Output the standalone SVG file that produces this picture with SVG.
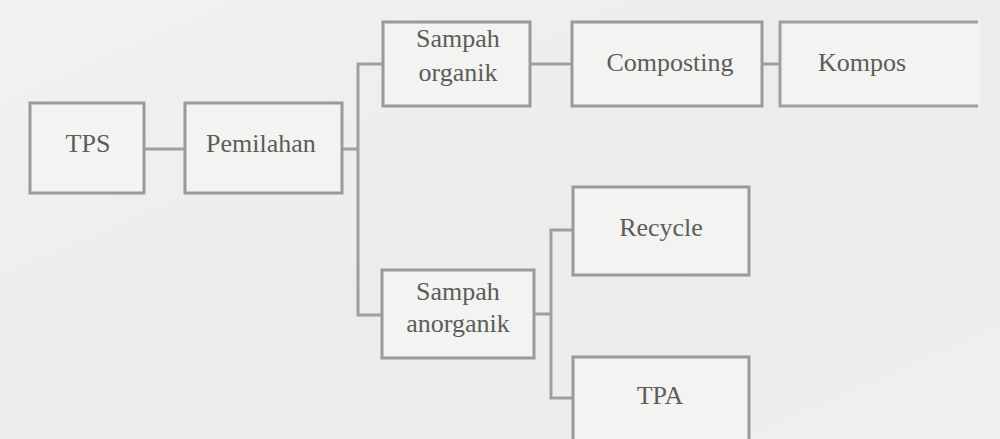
<svg xmlns="http://www.w3.org/2000/svg" width="1000" height="439" viewBox="0 0 1000 439">
<style>
.box{fill:#f3f3f1;stroke:#9a9a98;stroke-width:3}
.ln{fill:none;stroke:#9f9f9d;stroke-width:3}
text{font-family:"Liberation Serif",serif;font-size:26px;fill:#5c5c5a;text-anchor:middle;dominant-baseline:middle}
</style>
<defs>
<linearGradient id="bg" x1="0" y1="0" x2="1" y2="1">
<stop offset="0" stop-color="#f2f2f0"/>
<stop offset="0.5" stop-color="#ececea"/>
<stop offset="1" stop-color="#efefed"/>
</linearGradient>
</defs>
<rect width="1000" height="439" fill="url(#bg)"/>
<g id="connectors">
<path class="ln" d="M144 149H185"/>
<path class="ln" d="M342 149H358"/>
<path class="ln" d="M383 64H358V315H382"/>
<path class="ln" d="M530 64H572"/>
<path class="ln" d="M762 64H780"/>
<path class="ln" d="M534 314H551"/>
<path class="ln" d="M573 230H551V398H573"/>
</g>
<g id="tps"><rect class="box" x="30" y="103" width="114" height="90"/><text x="88" y="146">TPS</text></g>
<g id="pemilahan"><rect class="box" x="185" y="103" width="157" height="90"/><text x="261" y="146">Pemilahan</text></g>
<g id="sampah-organik"><rect class="box" x="383" y="22" width="147" height="84"/><text x="458" y="41">Sampah</text><text x="458" y="75">organik</text></g>
<g id="composting"><rect class="box" x="572" y="22" width="190" height="84"/><text x="670" y="65">Composting</text></g>
<g id="kompos"><rect x="780" y="22" width="200" height="84" fill="#f3f3f1"/><path class="ln" d="M978 22H780V106H978"/><text x="862" y="65">Kompos</text></g>
<g id="sampah-anorganik"><rect class="box" x="382" y="270" width="152" height="88"/><text x="458" y="294">Sampah</text><text x="458" y="326">anorganik</text></g>
<g id="recycle"><rect class="box" x="573" y="187" width="176" height="88"/><text x="661" y="230">Recycle</text></g>
<g id="tpa"><rect class="box" x="573" y="357" width="176" height="100"/><text x="660" y="398">TPA</text></g>
</svg>
